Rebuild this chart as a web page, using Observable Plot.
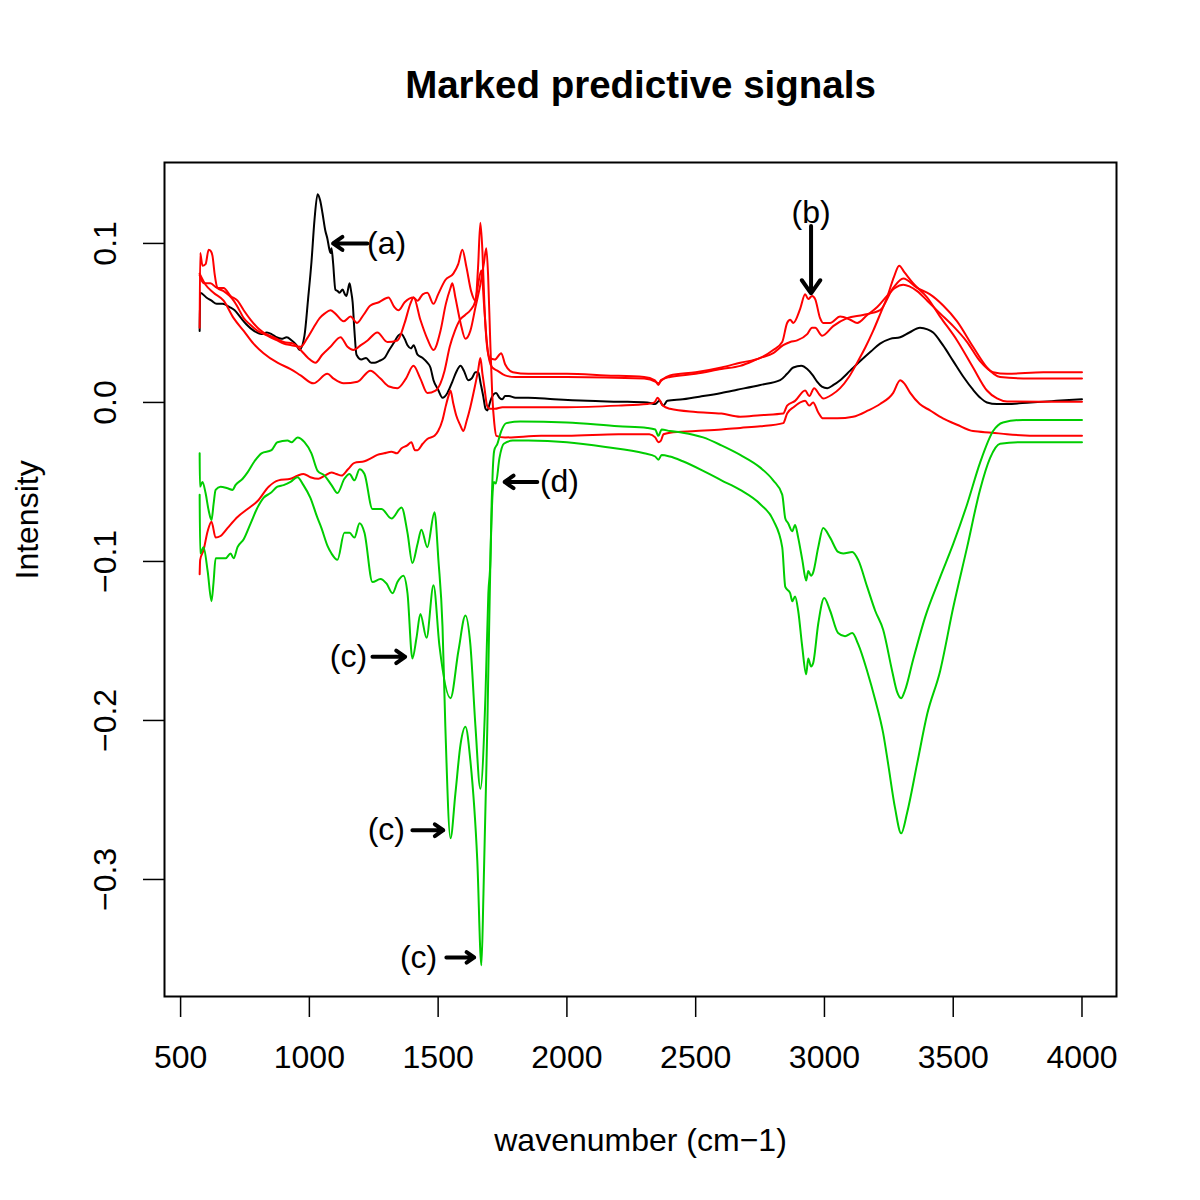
<!DOCTYPE html>
<html>
<head>
<meta charset="utf-8">
<script src="https://cdn.jsdelivr.net/npm/d3@7"></script>
<script src="https://cdn.jsdelivr.net/npm/@observablehq/plot@0.6"></script>
<style>
  html, body { margin: 0; padding: 0; background: #ffffff; }
  #chart svg { display: block; }
</style>
</head>
<body>
<div id="chart"></div>
<script>
// ---- Tick labels ----
const xTicks = [500, 1000, 1500, 2000, 2500, 3000, 3500, 4000];
const yTicks = [-0.3, -0.2, -0.1, 0.0, 0.1];

// ---- Series: [wavenumber, intensity] ----
const blackSeries = [[574,0.045],[576,0.069],[600,0.066],[620,0.064],[640,0.062],[663,0.062],[690,0.060],[710,0.058],[735,0.053],[756,0.049],[785,0.045],[814,0.043],[835,0.044],[853,0.043],[872,0.041],[892,0.040],[912,0.041],[931,0.039],[950,0.036],[962,0.033],[981,0.042],[995,0.065],[1008,0.088],[1020,0.115],[1032,0.131],[1042,0.127],[1051,0.119],[1062,0.108],[1070,0.103],[1078,0.096],[1082,0.094],[1086,0.097],[1092,0.088],[1101,0.071],[1110,0.070],[1117,0.069],[1129,0.071],[1138,0.068],[1144,0.067],[1156,0.075],[1162,0.070],[1168,0.063],[1175,0.045],[1183,0.030],[1202,0.027],[1220,0.028],[1240,0.025],[1253,0.025],[1270,0.026],[1292,0.028],[1310,0.033],[1330,0.038],[1345,0.042],[1357,0.043],[1370,0.040],[1381,0.036],[1395,0.034],[1405,0.036],[1420,0.030],[1440,0.028],[1458,0.025],[1470,0.022],[1482,0.014],[1500,0.008],[1517,0.003],[1536,0.006],[1555,0.013],[1570,0.019],[1587,0.023],[1600,0.020],[1617,0.014],[1630,0.015],[1645,0.019],[1656,0.019],[1665,0.012],[1675,0.004],[1684,-0.004],[1691,-0.005],[1703,0.001],[1715,0.005],[1725,0.006],[1738,0.003],[1749,0.002],[1760,0.004],[1775,0.004],[1800,0.003],[1850,0.003],[1950,0.002],[2079,0.001],[2200,0.0005],[2312,0.0],[2343,-0.001],[2359,0.001],[2374,-0.002],[2390,0.001],[2450,0.002],[2529,0.004],[2600,0.006],[2661,0.008],[2751,0.011],[2828,0.014],[2855,0.018],[2879,0.022],[2910,0.023],[2933,0.021],[2955,0.017],[2972,0.013],[2990,0.010],[3011,0.009],[3035,0.011],[3061,0.014],[3100,0.020],[3139,0.026],[3180,0.032],[3216,0.037],[3255,0.040],[3294,0.041],[3330,0.044],[3371,0.047],[3400,0.046],[3422,0.044],[3460,0.036],[3500,0.026],[3540,0.016],[3577,0.008],[3605,0.003],[3631,0.000],[3670,-0.001],[3709,-0.001],[3800,0.000],[3900,0.001],[4000,0.002]];

const red1 = [[574,0.047],[576,0.094],[585,0.086],[597,0.087],[609,0.096],[618,0.095],[624,0.092],[632,0.081],[643,0.072],[667,0.070],[690,0.067],[706,0.064],[725,0.059],[745,0.053],[770,0.049],[799,0.045],[825,0.043],[849,0.041],[875,0.039],[900,0.037],[930,0.036],[966,0.035],[990,0.040],[1016,0.047],[1040,0.053],[1060,0.056],[1082,0.058],[1100,0.056],[1133,0.051],[1160,0.054],[1185,0.050],[1210,0.055],[1237,0.061],[1270,0.063],[1307,0.066],[1330,0.060],[1346,0.058],[1370,0.063],[1404,0.066],[1420,0.064],[1440,0.068],[1458,0.069],[1482,0.062],[1500,0.068],[1528,0.077],[1559,0.081],[1578,0.087],[1594,0.096],[1610,0.085],[1628,0.070],[1645,0.064],[1655,0.085],[1664,0.113],[1672,0.095],[1680,0.060],[1690,0.035],[1700,0.028],[1720,0.027],[1745,0.031],[1760,0.024],[1790,0.019],[1850,0.018],[2000,0.018],[2150,0.017],[2300,0.016],[2340,0.014],[2355,0.012],[2368,0.014],[2400,0.017],[2500,0.019],[2600,0.022],[2673,0.025],[2751,0.028],[2801,0.033],[2836,0.038],[2855,0.050],[2867,0.052],[2879,0.050],[2906,0.059],[2925,0.068],[2937,0.065],[2952,0.067],[2964,0.065],[2983,0.053],[2995,0.050],[3022,0.050],[3061,0.054],[3100,0.052],[3127,0.050],[3166,0.055],[3205,0.060],[3243,0.067],[3274,0.072],[3306,0.074],[3330,0.073],[3360,0.070],[3399,0.064],[3449,0.056],[3500,0.048],[3554,0.038],[3604,0.026],[3655,0.019],[3709,0.018],[3850,0.019],[4000,0.019]];

const red2 = [[574,0.080],[589,0.075],[616,0.075],[643,0.072],[667,0.072],[694,0.067],[721,0.064],[745,0.058],[772,0.052],[799,0.047],[822,0.044],[861,0.041],[900,0.038],[938,0.037],[966,0.033],[995,0.028],[1024,0.025],[1050,0.030],[1082,0.035],[1121,0.041],[1148,0.035],[1171,0.033],[1200,0.036],[1226,0.039],[1264,0.044],[1303,0.038],[1342,0.039],[1370,0.050],[1392,0.062],[1405,0.066],[1431,0.052],[1458,0.040],[1482,0.033],[1509,0.045],[1530,0.062],[1548,0.072],[1555,0.075],[1567,0.066],[1587,0.050],[1606,0.040],[1625,0.045],[1645,0.060],[1665,0.075],[1678,0.088],[1687,0.097],[1694,0.080],[1702,0.040],[1710,0.005],[1718,-0.013],[1726,-0.021],[1760,-0.022],[1900,-0.021],[2000,-0.021],[2200,-0.020],[2320,-0.020],[2343,-0.022],[2355,-0.025],[2365,-0.024],[2375,-0.020],[2400,-0.019],[2500,-0.018],[2600,-0.017],[2673,-0.016],[2751,-0.015],[2840,-0.013],[2855,-0.007],[2880,-0.003],[2925,0.001],[2941,-0.002],[2956,0.000],[2975,-0.006],[2995,-0.010],[3050,-0.010],[3111,-0.009],[3170,-0.005],[3216,-0.001],[3267,0.006],[3294,0.014],[3310,0.012],[3333,0.006],[3370,-0.001],[3410,-0.005],[3460,-0.010],[3515,-0.014],[3577,-0.018],[3650,-0.019],[3709,-0.020],[3850,-0.021],[4000,-0.021]];

const red3 = [[574,0.081],[597,0.074],[628,0.069],[667,0.064],[706,0.053],[745,0.045],[783,0.037],[822,0.031],[876,0.025],[927,0.021],[966,0.017],[1016,0.012],[1070,0.018],[1094,0.015],[1133,0.012],[1187,0.013],[1237,0.020],[1276,0.015],[1310,0.010],[1342,0.009],[1375,0.015],[1404,0.023],[1431,0.015],[1458,0.006],[1490,0.0075],[1509,0.012],[1525,0.020],[1545,0.035],[1565,0.045],[1585,0.052],[1605,0.055],[1625,0.058],[1645,0.064],[1656,0.075],[1668,0.083],[1678,0.062],[1688,0.040],[1698,0.027],[1710,0.022],[1730,0.020],[1760,0.017],[1800,0.016],[2000,0.016],[2300,0.015],[2345,0.013],[2355,0.011],[2365,0.014],[2400,0.016],[2500,0.018],[2600,0.021],[2673,0.023],[2751,0.028],[2801,0.031],[2840,0.036],[2867,0.038],[2894,0.039],[2933,0.043],[2952,0.047],[2964,0.047],[2991,0.042],[3034,0.048],[3088,0.053],[3150,0.055],[3216,0.058],[3267,0.072],[3306,0.078],[3360,0.072],[3410,0.068],[3461,0.061],[3515,0.051],[3577,0.035],[3631,0.022],[3682,0.016],[3800,0.015],[4000,0.015]];

const red4 = [[574,-0.108],[576,-0.099],[589,-0.093],[605,-0.081],[620,-0.075],[636,-0.085],[655,-0.084],[682,-0.079],[721,-0.072],[760,-0.067],[799,-0.062],[842,-0.053],[880,-0.049],[927,-0.048],[954,-0.046],[977,-0.045],[1004,-0.047],[1035,-0.048],[1060,-0.046],[1086,-0.044],[1105,-0.045],[1125,-0.046],[1150,-0.042],[1175,-0.038],[1214,-0.037],[1240,-0.035],[1264,-0.033],[1290,-0.032],[1319,-0.031],[1340,-0.032],[1357,-0.029],[1380,-0.027],[1396,-0.025],[1410,-0.030],[1420,-0.030],[1440,-0.026],[1458,-0.023],[1486,-0.021],[1500,-0.018],[1517,-0.011],[1530,-0.002],[1540,0.004],[1548,0.0075],[1558,0.0],[1570,-0.008],[1585,-0.014],[1598,-0.018],[1610,-0.012],[1625,-0.003],[1640,0.008],[1655,0.020],[1664,0.028],[1672,0.018],[1680,0.009],[1690,-0.002],[1700,-0.004],[1720,-0.004],[1750,-0.003],[1800,-0.003],[2000,-0.003],[2200,-0.002],[2312,-0.001],[2340,0.000],[2352,0.003],[2362,0.001],[2372,-0.002],[2400,-0.004],[2500,-0.006],[2600,-0.007],[2673,-0.009],[2751,-0.008],[2840,-0.007],[2855,-0.002],[2886,0.001],[2925,0.0075],[2941,0.004],[2960,0.009],[2980,0.005],[2995,0.0025],[3030,0.005],[3061,0.009],[3095,0.016],[3127,0.025],[3160,0.035],[3189,0.045],[3220,0.057],[3243,0.066],[3270,0.079],[3290,0.086],[3310,0.082],[3344,0.075],[3399,0.066],[3449,0.054],[3515,0.039],[3577,0.022],[3631,0.0075],[3670,0.0025],[3709,0.0006],[3850,0.0005],[4000,0.0005]];

const green1 = [[574,-0.032],[575,-0.053],[585,-0.050],[597,-0.057],[609,-0.068],[620,-0.074],[628,-0.064],[636,-0.055],[655,-0.053],[682,-0.054],[702,-0.055],[713,-0.052],[741,-0.048],[760,-0.044],[787,-0.037],[814,-0.032],[853,-0.030],[876,-0.025],[915,-0.024],[931,-0.025],[954,-0.022],[981,-0.025],[1008,-0.032],[1032,-0.043],[1059,-0.046],[1086,-0.052],[1109,-0.057],[1136,-0.048],[1156,-0.045],[1175,-0.049],[1195,-0.042],[1214,-0.045],[1245,-0.067],[1280,-0.067],[1319,-0.073],[1358,-0.066],[1381,-0.082],[1400,-0.101],[1420,-0.089],[1435,-0.080],[1458,-0.091],[1486,-0.069],[1501,-0.099],[1517,-0.141],[1528,-0.204],[1548,-0.274],[1567,-0.246],[1587,-0.215],[1606,-0.204],[1625,-0.225],[1652,-0.288],[1668,-0.354],[1676,-0.309],[1691,-0.204],[1703,-0.099],[1710,-0.062],[1716,-0.050],[1724,-0.051],[1738,-0.035],[1755,-0.026],[1790,-0.024],[1850,-0.024],[2000,-0.025],[2150,-0.028],[2300,-0.032],[2343,-0.034],[2355,-0.036],[2368,-0.033],[2400,-0.034],[2450,-0.037],[2529,-0.043],[2600,-0.049],[2673,-0.055],[2751,-0.064],[2801,-0.074],[2836,-0.091],[2848,-0.116],[2867,-0.120],[2875,-0.125],[2886,-0.122],[2898,-0.131],[2914,-0.154],[2929,-0.171],[2937,-0.161],[2948,-0.166],[2956,-0.164],[2976,-0.139],[2999,-0.123],[3022,-0.131],[3053,-0.145],[3080,-0.147],[3108,-0.145],[3131,-0.152],[3166,-0.169],[3197,-0.187],[3228,-0.208],[3247,-0.227],[3274,-0.255],[3298,-0.271],[3321,-0.258],[3360,-0.227],[3399,-0.196],[3449,-0.169],[3500,-0.129],[3554,-0.091],[3604,-0.055],[3643,-0.035],[3682,-0.026],[3771,-0.025],[4000,-0.025]];

const green2 = [[574,-0.058],[576,-0.095],[589,-0.091],[605,-0.106],[620,-0.125],[628,-0.113],[636,-0.098],[655,-0.098],[675,-0.098],[694,-0.095],[706,-0.098],[721,-0.091],[745,-0.086],[772,-0.076],[799,-0.066],[822,-0.060],[849,-0.057],[876,-0.053],[900,-0.052],[927,-0.050],[954,-0.047],[977,-0.052],[1004,-0.060],[1030,-0.072],[1047,-0.079],[1070,-0.090],[1086,-0.095],[1109,-0.099],[1136,-0.082],[1156,-0.082],[1175,-0.085],[1195,-0.076],[1214,-0.082],[1245,-0.113],[1276,-0.111],[1300,-0.114],[1323,-0.120],[1342,-0.113],[1365,-0.109],[1381,-0.120],[1400,-0.161],[1416,-0.148],[1431,-0.133],[1455,-0.148],[1482,-0.115],[1505,-0.153],[1548,-0.186],[1579,-0.156],[1606,-0.134],[1625,-0.152],[1645,-0.204],[1664,-0.243],[1684,-0.183],[1695,-0.120],[1703,-0.099],[1708,-0.062],[1712,-0.043],[1718,-0.030],[1730,-0.026],[1745,-0.018],[1765,-0.013],[1819,-0.012],[2000,-0.0126],[2200,-0.015],[2312,-0.016],[2343,-0.017],[2355,-0.021],[2368,-0.017],[2400,-0.018],[2450,-0.019],[2529,-0.022],[2600,-0.027],[2673,-0.033],[2751,-0.041],[2801,-0.049],[2836,-0.058],[2848,-0.073],[2859,-0.076],[2875,-0.081],[2886,-0.077],[2898,-0.085],[2914,-0.099],[2929,-0.112],[2937,-0.106],[2948,-0.109],[2956,-0.107],[2976,-0.091],[2995,-0.079],[3022,-0.085],[3053,-0.094],[3073,-0.095],[3108,-0.094],[3131,-0.099],[3166,-0.116],[3197,-0.131],[3228,-0.143],[3263,-0.169],[3282,-0.182],[3298,-0.186],[3313,-0.181],[3344,-0.162],[3391,-0.135],[3449,-0.110],[3500,-0.089],[3554,-0.064],[3604,-0.038],[3655,-0.018],[3693,-0.0126],[3771,-0.011],[4000,-0.011]];

// ---- Annotations ----
const annLabels = ["(a)", "(b)", "(c)", "(c)", "(c)", "(d)"];
const annTextX  = [1300, 2948, 1152, 1299, 1424, 1971];
const annTextY  = [0.1, 0.119, -0.160, -0.269, -0.349, -0.050];
const arrowX1   = [1225, 2948, 1245, 1400, 1532, 1885];
const arrowY1   = [0.1, 0.111, -0.160, -0.269, -0.349, -0.050];
const arrowX2   = [1092, 2948, 1372, 1520, 1640, 1758];
const arrowY2   = [0.1, 0.0686, -0.160, -0.269, -0.349, -0.050];

// ---- Build tables ----
const toRows = (arr) => arr.map(([w, v]) => ({w, v}));
const annText = annLabels.map((t, i) => ({t, x: annTextX[i], y: annTextY[i]}));
const annArrows = arrowX1.map((x1, i) => ({x1, y1: arrowY1[i], x2: arrowX2[i], y2: arrowY2[i]}));

const FS = 32;
const lineOpts = {x: "w", y: "v", strokeWidth: 2, curve: "monotone-x"};
const chart = Plot.plot({
  width: 1200,
  height: 1200,
  marginLeft: 164,
  marginRight: 84,
  marginTop: 162,
  marginBottom: 204,
  style: {fontFamily: "'Liberation Sans', Arial, Helvetica, sans-serif", background: "#ffffff", color: "#000000"},
  x: {domain: [437.5, 4134]},
  y: {domain: [-0.3736, 0.1509]},
  marks: [
    Plot.axisX({ticks: xTicks, tickSize: 21, tickPadding: 28, tickFormat: d3.format("d"), fontSize: FS, strokeWidth: 1.5, label: null}),
    Plot.axisY({ticks: yTicks, tickSize: 21, tickPadding: 28, tickRotate: -90, tickFormat: d3.format(".1f"), fontSize: FS, strokeWidth: 1.5, label: null}),
    Plot.line(toRows(blackSeries), {...lineOpts, stroke: "#000000"}),
    Plot.line(toRows(red1), {...lineOpts, stroke: "#ff0000"}),
    Plot.line(toRows(red2), {...lineOpts, stroke: "#ff0000"}),
    Plot.line(toRows(red3), {...lineOpts, stroke: "#ff0000"}),
    Plot.line(toRows(red4), {...lineOpts, stroke: "#ff0000"}),
    Plot.line(toRows(green1), {...lineOpts, stroke: "#00cd00"}),
    Plot.line(toRows(green2), {...lineOpts, stroke: "#00cd00"}),
    Plot.arrow(annArrows, {x1: "x1", y1: "y1", x2: "x2", y2: "y2", stroke: "#000000", strokeWidth: 4, headLength: 6, headAngle: 70}),
    Plot.text(annText, {x: "x", y: "y", text: "t", fontSize: FS, fill: "#000000"}),
    Plot.frame({stroke: "#000000", strokeWidth: 2}),
    Plot.text(["Marked predictive signals"], {frameAnchor: "top", dy: -65, lineAnchor: "bottom", fontSize: 38.5, fontWeight: "bold", fill: "#000000"}),
    Plot.text(["wavenumber (cm\u22121)"], {frameAnchor: "bottom", dy: 154, lineAnchor: "bottom", fontSize: FS, fill: "#000000"}),
    Plot.text(["Intensity"], {frameAnchor: "left", dx: -137, rotate: -90, lineAnchor: "middle", fontSize: FS, fill: "#000000"})
  ]
});
document.getElementById("chart").appendChild(chart);
</script>
</body>
</html>
